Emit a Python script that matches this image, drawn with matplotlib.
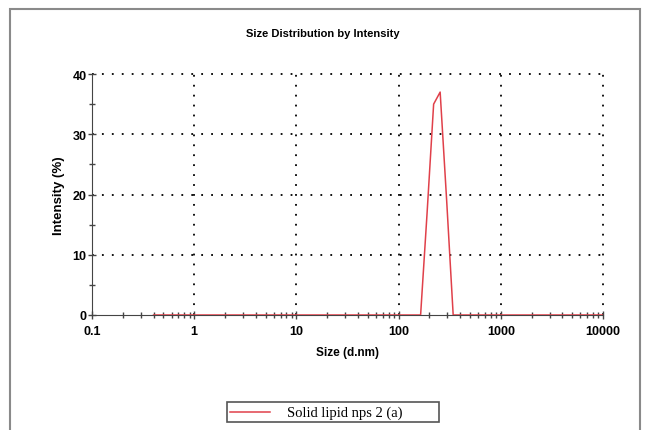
import matplotlib.pyplot as plt
from matplotlib.patches import Rectangle
from matplotlib.lines import Line2D
from matplotlib.ticker import FixedLocator, NullFormatter

# size bins (d.nm) and intensity (%)
sizes = [0.4, 1, 10, 100, 164.2, 190.1, 220.2, 255.0, 295.3, 342.0, 1000, 10000]
intensity = [0, 0, 0, 0, 0, 17.0, 35.0, 37.0, 19.0, 0, 0, 0]

x_ticks = [0.1, 1, 10, 100, 1000, 10000]
x_labels = ['0.1', '1', '10', '100', '1000', '10000']
y_ticks = [0, 10, 20, 30, 40]
series_name = 'Solid lipid nps 2 (a)'
line_color = '#e0404a'

plt.rcParams['font.family'] = ['Liberation Sans', 'DejaVu Sans']

W, H = 646, 431
fig = plt.figure(figsize=(W / 100, H / 100), dpi=100)
ax = fig.add_axes([92 / W, 1 - 316 / H, (603 - 92) / W, (316 - 75) / H])

# outer frame around the whole chart
fig.patches.append(Rectangle((10 / W, -0.05), 630 / W, 1.05 - 10 / H,
                             transform=fig.transFigure, fill=False,
                             edgecolor='#8a8a8a', linewidth=1.5))

ax.plot(sizes, intensity, color=line_color, linewidth=1.1, zorder=3)

ax.set_xscale('log')
ax.set_xlim(0.1, 10000)
ax.set_ylim(0, 40)
ax.set_xticks(x_ticks)
ax.set_xticklabels(x_labels)
ax.xaxis.set_minor_formatter(NullFormatter())
ax.set_yticks(y_ticks)
ax.yaxis.set_minor_locator(FixedLocator([5, 15, 25, 35]))

dots = (0, (1, 4.5))
for v in x_ticks[1:]:
    ax.axvline(v, color='black', linestyle=dots, linewidth=1.3, zorder=1, clip_on=False)
for v in y_ticks[1:]:
    ax.axhline(v, color='black', linestyle=dots, linewidth=1.3, zorder=1, clip_on=False)

ax.spines['top'].set_visible(False)
ax.spines['right'].set_visible(False)
ax.spines['left'].set_color('#444444')
ax.spines['bottom'].set_color('#444444')

ax.tick_params(which='major', direction='inout', length=6, width=1, color='#444444',
               labelsize=9, pad=1)
ax.tick_params(axis='x', which='major', pad=4)
ax.tick_params(which='minor', direction='inout', length=4, width=1, color='#444444')
for lab in ax.get_xticklabels() + ax.get_yticklabels():
    lab.set_fontweight('bold')

ax.set_xlabel('Size (d.nm)', fontsize=8.5, fontweight='bold', labelpad=7)
ax.set_ylabel('Intensity (%)', fontsize=9.5, fontweight='bold', labelpad=5)
fig.text(0.5, 1 - 34 / H, 'Size Distribution by Intensity', ha='center', va='center',
         fontsize=8, fontweight='bold')

# legend box drawn below the plot
fig.patches.append(Rectangle((227 / W, 1 - 423 / H), (439 - 227) / W, 20 / H,
                             transform=fig.transFigure, fill=False,
                             edgecolor='#555555', linewidth=1.2))
fig.lines.append(Line2D([230 / W, 270 / W], [1 - 413 / H, 1 - 413 / H],
                        transform=fig.transFigure, color=line_color, linewidth=1.1))
fig.text(287 / W, 1 - 413 / H, series_name, ha='left', va='center',
         family='Liberation Serif', fontsize=10.5)

fig.savefig('out.png', dpi=100)
